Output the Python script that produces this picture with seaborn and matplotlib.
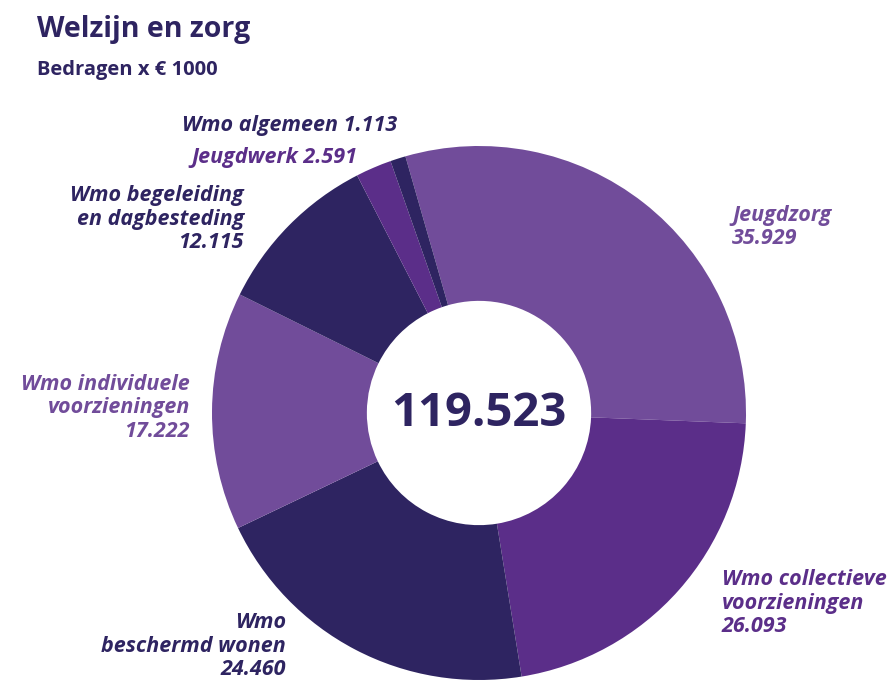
import matplotlib
matplotlib.use("Agg")
import matplotlib.pyplot as plt
import seaborn as sns

# Set style
sns.set_theme(style="white")
plt.rcParams['font.family'] = ['Open Sans', 'DejaVu Sans']

# --- Data ---
categories = ['Jeugdzorg', 'Wmo collectieve\nvoorzieningen', 'Wmo\nbeschermd wonen',
              'Wmo individuele\nvoorzieningen', 'Wmo begeleiding\nen dagbesteding',
              'Jeugdwerk', 'Wmo algemeen']
values = [35929, 26093, 24460, 17222, 12115, 2591, 1113]
value_labels = ['35.929', '26.093', '24.460', '17.222', '12.115', '2.591', '1.113']
total_label = '119.523'

DARK = '#2e2461'
MID = '#5b2e89'
LIGHT = '#714c9a'
colors = [LIGHT, MID, DARK, LIGHT, DARK, MID, DARK]

W, H = 890, 681


def px(x, y):
    return x / W, 1 - y / H


fig = plt.figure(figsize=(W / 100, H / 100), dpi=100)
fig.patch.set_facecolor('white')

# pie axes: centre (479, 413), radius 267 px
cx, cy, r = 479, 413, 267
ax = fig.add_axes([(cx - r) / W, (H - cy - r) / H, 2 * r / W, 2 * r / H])
ax.pie(values, colors=colors, startangle=106, counterclock=False, radius=1,
       wedgeprops=dict(width=0.58, linewidth=0))
ax.set_xlim(-1, 1)
ax.set_ylim(-1, 1)
ax.set_aspect('equal')
ax.axis('off')

# total in the middle
ax.text(0, 0, total_label, ha='center', va='center', fontsize=34,
        fontweight='bold', color=DARK)

# title
fig.text(*px(37, 29), 'Welzijn en zorg', fontsize=20.5, fontweight='bold',
         color=DARK, va='center', ha='left')
fig.text(*px(37, 70), 'Bedragen x € 1000', fontsize=14.5, fontweight='bold',
         color=DARK, va='center', ha='left')

# slice labels: (x, y of block centre, ha, colour)
label_pos = [
    (732, 227, 'left', LIGHT),
    (722, 603, 'left', MID),
    (286, 646, 'right', DARK),
    (190, 408, 'right', LIGHT),
    (244, 219, 'right', DARK),
    (357, 157, 'right', MID),
    (397, 126, 'right', DARK),
]
for name, val, (x, y, ha, col) in zip(categories, value_labels, label_pos):
    if name in ('Jeugdwerk', 'Wmo algemeen'):
        txt = f'{name} {val}'
    else:
        txt = f'{name}\n{val}'
    fig.text(*px(x, y), txt, fontsize=15.5, fontweight='bold', fontstyle='italic',
             color=col, ha=ha, va='center', multialignment=ha, linespacing=1.15)

fig.savefig('out.png', dpi=100, facecolor='white')
